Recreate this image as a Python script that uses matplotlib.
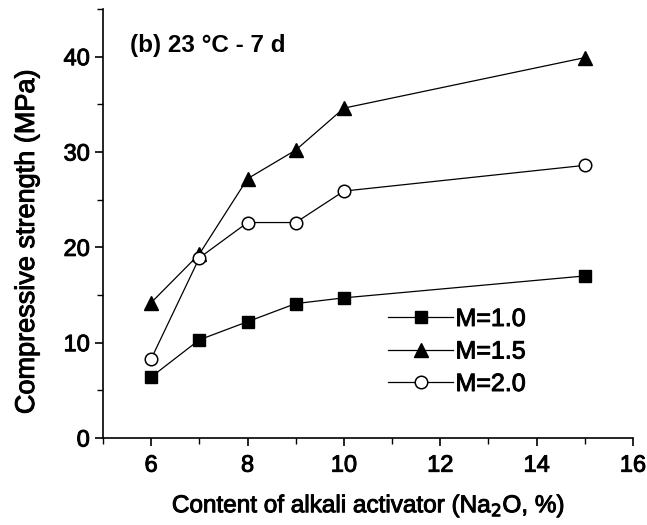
import matplotlib
matplotlib.use("Agg")
import matplotlib.pyplot as plt
import matplotlib.patheffects as pe
from matplotlib.ticker import MultipleLocator

plt.rcParams['font.family'] = ['Liberation Sans', 'DejaVu Sans']

# Na2O content (%) and 7-day compressive strength (MPa) at 23 °C
na2o = [6, 7, 8, 9, 10, 15]
m10 = [6.4, 10.3, 12.2, 14.1, 14.7, 17.0]
m15 = [14.2, 19.3, 27.2, 30.2, 34.6, 39.9]
m20 = [8.3, 18.9, 22.6, 22.6, 25.9, 28.6]
labels = ["M=1.0", "M=1.5", "M=2.0"]

# slightly heavier strokes for all text
heavy = [pe.withStroke(linewidth=0.7, foreground='black')]

fig = plt.figure(figsize=(6.47, 5.25), dpi=100)
ax = fig.add_axes([103 / 647, 1 - 438 / 525, 530 / 647, 429 / 525])

lw = 0.9
ax.plot(na2o, m10, '-s', color='black', lw=lw, ms=9, mfc='black', label=labels[0])
ax.plot(na2o, m15, '-^', color='black', lw=lw, ms=10, mfc='black', label=labels[1])
ax.plot(na2o, m20, '-o', color='black', lw=lw, ms=9, mfc='white', mew=1.1, label=labels[2])

ax.set_xlim(5, 16)
ax.set_ylim(0, 45)
ax.xaxis.set_major_locator(MultipleLocator(2))
ax.xaxis.set_minor_locator(MultipleLocator(1))
ax.yaxis.set_major_locator(MultipleLocator(10))
ax.yaxis.set_minor_locator(MultipleLocator(5))
for s in ('top', 'right'):
    ax.spines[s].set_visible(False)
for s in ('left', 'bottom'):
    ax.spines[s].set_linewidth(1.2)
ax.tick_params(which='major', direction='out', length=6, width=1.2, labelsize=17)
ax.tick_params(which='minor', direction='out', length=4, width=1.0)
ax.tick_params(axis='x', pad=6)
for t in ax.get_xticklabels() + ax.get_yticklabels():
    t.set_path_effects(heavy)

ax.set_xlabel("Content of alkali activator (Na$_2$O, %)", fontsize=17.5, labelpad=12,
              path_effects=heavy)
ax.set_ylabel("Compressive strength (MPa)", fontsize=19.5, path_effects=heavy)
ax.yaxis.set_label_coords(-63 / 530, 0.458)

ax.text(0.05, 0.915, "(b) 23 °C - 7 d", transform=ax.transAxes, fontsize=17.5,
        fontweight='bold', ha='left', va='center')

leg = ax.legend(loc='upper left', bbox_to_anchor=(285 / 530, (438 - 307) / 429), frameon=False,
                fontsize=18, handlelength=2.6, handletextpad=0.1, labelspacing=0.34,
                borderaxespad=0, borderpad=0)
for t in leg.get_texts():
    t.set_path_effects(heavy)

fig.savefig("out.png", dpi=100)
